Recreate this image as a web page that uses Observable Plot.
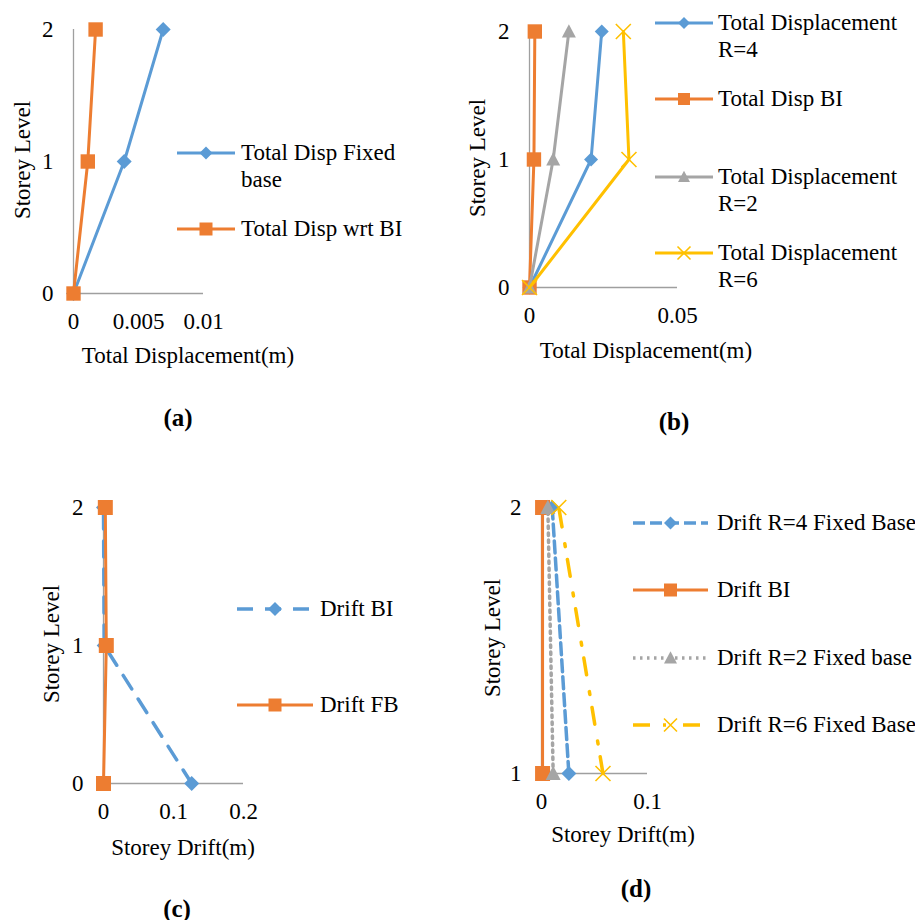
<!DOCTYPE html>
<html><head><meta charset="utf-8">
<script src="https://cdn.jsdelivr.net/npm/d3@7"></script>
<script src="https://cdn.jsdelivr.net/npm/@observablehq/plot@0.6"></script>
<style>
html,body{margin:0;padding:0;background:#fff;}
#fig{position:relative;width:915px;height:920px;font-family:"Liberation Serif","Times New Roman",serif;color:#000;overflow:hidden;background:#fff;}
.t{position:absolute;white-space:nowrap;font-size:23px;line-height:1;transform:translate(-50%,-50%);}
.rot{transform:translate(-50%,-50%) rotate(-90deg);}
.title{font-weight:bold;font-size:25px;}
.leg{position:absolute;font-size:23px;line-height:27px;white-space:nowrap;}
.sw{position:absolute;overflow:visible;}
#fig svg.p{position:absolute;overflow:visible;}
</style></head><body><div id="fig"></div>
<script>
// ---------- data ----------
// (a) Total displacement
const storeyA = [0, 1, 2];
const dispFixedA = [0, 0.0039, 0.0069];
const dispBIA = [0, 0.0011, 0.0017];
// (b) Total displacement for R values
const storeyB = [0, 1, 2];
const dispR4B = [0, 0.0208, 0.0244];
const dispBIB = [0, 0.0015, 0.0018];
const dispR2B = [0, 0.0080, 0.0133];
const dispR6B = [0, 0.0336, 0.0317];
// (c) Storey drift
const storeyC = [0, 1, 2];
const driftBIC = [0.126, 0.001, 0];
const driftFBC = [0, 0.004, 0.0026];
// (d) Storey drift for R values
const storeyD = [1, 2];
const driftR4D = [0.0258, 0.0101];
const driftBID = [0.001, 0.001];
const driftR2D = [0.011, 0.006];
const driftR6D = [0.058, 0.0163];
// ticks
const xTicksA = [0, 0.005, 0.01];
const xTicksB = [0, 0.05];
const xTicksC = [0, 0.1, 0.2];
const xTicksD = [0, 0.1];
const yTicksABC = [0, 1, 2];
const yTicksD = [1, 2];

// ---------- styles ----------
const BLUE = "#5B9BD5", ORANGE = "#ED7D31", GRAY = "#A5A5A5", YELLOW = "#FFC000", AXIS = "#9f9f9f";
const rOf = s => Math.sqrt(s / Math.PI);
const diamondSym = {draw(c, s){const r = rOf(s); c.moveTo(0,-r); c.lineTo(r,0); c.lineTo(0,r); c.lineTo(-r,0); c.closePath();}};
const squareSym = {draw(c, s){const r = rOf(s); c.rect(-r,-r,2*r,2*r);}};
const triSym = {draw(c, s){const r = rOf(s); c.moveTo(0,-r*1.05); c.lineTo(r,r*0.85); c.lineTo(-r,r*0.85); c.closePath();}};
const xSym = {draw(c, s){const r = rOf(s); c.moveTo(-r,-r); c.lineTo(r,r); c.moveTo(r,-r); c.lineTo(-r,r);}};

const fig = document.getElementById("fig");

function panel(o) {
  const marks = [
    Plot.ruleY([o.yDomain[0]], {x1: o.xDomain[0], x2: o.xDomain[1], stroke: AXIS, strokeWidth: 1.3}),
    Plot.ruleX([0], {y1: o.yDomain[0], y2: o.yDomain[1], stroke: AXIS, strokeWidth: 1.3})
  ];
  for (const s of o.series) {
    const data = s.y.map((yy, i) => ({x: s.x[i], y: yy}));
    marks.push(Plot.line(data, {x: "x", y: "y", stroke: s.color, strokeWidth: s.w || 3, strokeDasharray: s.dash, strokeLinejoin: "round"}));
    const isX = s.sym === xSym;
    marks.push(Plot.dot(data, {x: "x", y: "y", symbol: s.sym, r: s.r, fill: isX ? "none" : s.color, stroke: isX ? s.color : "none", strokeWidth: isX ? 1.6 : 0}));
  }
  const svg = Plot.plot({
    width: o.width, height: o.height,
    marginLeft: o.mL, marginRight: o.mR, marginTop: o.mT, marginBottom: o.mB,
    style: {fontFamily: '"Liberation Serif","Times New Roman",serif', fontSize: "23px", color: "#000", background: "transparent", overflow: "visible"},
    x: {domain: o.xDomain, ticks: o.xTicks, tickSize: 0, tickPadding: 19, tickFormat: d => String(d), label: null},
    y: {domain: o.yDomain, ticks: o.yTicks, tickSize: 0, tickPadding: 20, tickFormat: d => String(d), label: null},
    marks
  });
  svg.classList.add("p");
  svg.style.left = o.left + "px";
  svg.style.top = o.top + "px";
  fig.appendChild(svg);
}

function text(str, x, y, cls) {
  const d = document.createElement("div");
  d.className = "t " + (cls || "");
  d.innerHTML = str;
  d.style.left = x + "px"; d.style.top = y + "px";
  fig.appendChild(d);
}

function legend(x, y, len, textX, s, label) {
  const ns = "http://www.w3.org/2000/svg";
  const svg = document.createElementNS(ns, "svg");
  svg.setAttribute("class", "sw");
  svg.setAttribute("width", len); svg.setAttribute("height", 24);
  svg.style.left = x + "px"; svg.style.top = (y - 12) + "px";
  const ln = document.createElementNS(ns, "line");
  ln.setAttribute("x1", 0); ln.setAttribute("x2", len); ln.setAttribute("y1", 12); ln.setAttribute("y2", 12);
  ln.setAttribute("stroke", s.color); ln.setAttribute("stroke-width", s.w || 3);
  if (s.dash) ln.setAttribute("stroke-dasharray", s.dash);
  svg.appendChild(ln);
  const p = document.createElementNS(ns, "path");
  p.setAttribute("d", d3.symbol(s.sym, Math.PI * s.lr * s.lr)());
  p.setAttribute("transform", `translate(${len/2},12)`);
  if (s.sym === xSym) { p.setAttribute("fill", "none"); p.setAttribute("stroke", s.color); p.setAttribute("stroke-width", 1.6); }
  else p.setAttribute("fill", s.color);
  svg.appendChild(p);
  fig.appendChild(svg);
  const d = document.createElement("div");
  d.className = "leg";
  d.innerHTML = label;
  d.style.left = textX + "px"; d.style.top = (y - 14) + "px";
  fig.appendChild(d);
}

// ---------- panel (a) ----------
const serA = [
  {x: dispFixedA, y: storeyA, color: BLUE, sym: diamondSym, r: 7.5, lr: 6.5},
  {x: dispBIA, y: storeyA, color: ORANGE, sym: squareSym, r: 7.2, lr: 6.5}
];
panel({left: 0, top: 0, width: 215, height: 340, mL: 73, mR: 12, mT: 29, mB: 47,
  xDomain: [0, 0.01], xTicks: xTicksA, yDomain: [0, 2], yTicks: yTicksABC, series: serA});
text("Storey Level", 22, 160, "rot");
text("Total Displacement(m)", 188, 355);
text("(a)", 178, 417, "title");
legend(177, 153, 58, 241, serA[0], "Total Disp Fixed<br>base");
legend(177, 229, 58, 241, serA[1], "Total Disp wrt BI");

// ---------- panel (b) ----------
const serB = [
  {x: dispR4B, y: storeyB, color: BLUE, sym: diamondSym, r: 7, lr: 6},
  {x: dispBIB, y: storeyB, color: ORANGE, sym: squareSym, r: 7.2, lr: 6},
  {x: dispR2B, y: storeyB, color: GRAY, sym: triSym, r: 7, lr: 6},
  {x: dispR6B, y: storeyB, color: YELLOW, sym: xSym, r: 7.5, lr: 6.5}
];
panel({left: 440, top: 0, width: 250, height: 330, mL: 89, mR: 13, mT: 31, mB: 43,
  xDomain: [0, 0.05], xTicks: xTicksB, yDomain: [0, 2], yTicks: yTicksABC, series: serB});
text("Storey Level", 477, 158, "rot");
text("Total Displacement(m)", 646, 350);
text("(b)", 674, 421, "title");
legend(655, 23, 58, 718, serB[0], "Total Displacement<br>R=4");
legend(655, 99, 58, 718, serB[1], "Total Disp BI");
legend(655, 177, 58, 718, serB[2], "Total Displacement<br>R=2");
legend(655, 253, 58, 718, serB[3], "Total Displacement<br>R=6");

// ---------- panel (c) ----------
const serC = [
  {x: driftBIC, y: storeyC, color: BLUE, sym: diamondSym, r: 7.5, lr: 7, dash: "16,12", w: 3.5},
  {x: driftFBC, y: storeyC, color: ORANGE, sym: squareSym, r: 7.5, lr: 6.5}
];
panel({left: 0, top: 480, width: 255, height: 345, mL: 103, mR: 12, mT: 27, mB: 42,
  xDomain: [0, 0.2], xTicks: xTicksC, yDomain: [0, 2], yTicks: yTicksABC, series: serC});
text("Storey Level", 51, 644, "rot");
text("Storey Drift(m)", 183, 847);
text("(c)", 177, 908, "title");
legend(237, 609, 76, 320, serC[0], "Drift BI");
legend(237, 705, 76, 320, serC[1], "Drift FB");

// ---------- panel (d) ----------
const serD = [
  {x: driftR4D, y: storeyD, color: BLUE, sym: diamondSym, r: 7.5, lr: 6.5, dash: "12,5", w: 3.5},
  {x: driftBID, y: storeyD, color: ORANGE, sym: squareSym, r: 7.5, lr: 6.5},
  {x: driftR2D, y: storeyD, color: GRAY, sym: triSym, r: 7.5, lr: 6.5, dash: "2.5,4.5", w: 3.5},
  {x: driftR6D, y: storeyD, color: YELLOW, sym: xSym, r: 7.5, lr: 6.5, dash: "17,13,3,17", w: 3.5}
];
panel({left: 470, top: 480, width: 190, height: 335, mL: 71, mR: 13, mT: 27, mB: 42,
  xDomain: [0, 0.1], xTicks: xTicksD, yDomain: [1, 2], yTicks: yTicksD, series: serD});
text("Storey Level", 492, 638, "rot");
text("Storey Drift(m)", 623, 834);
text("(d)", 636, 888, "title");
legend(633, 523, 75, 717, serD[0], "Drift R=4 Fixed Base");
legend(633, 590, 75, 717, serD[1], "Drift BI");
legend(633, 658, 75, 717, serD[2], "Drift R=2 Fixed base");
legend(633, 725, 75, 717, serD[3], "Drift R=6 Fixed Base");
</script></body></html>
